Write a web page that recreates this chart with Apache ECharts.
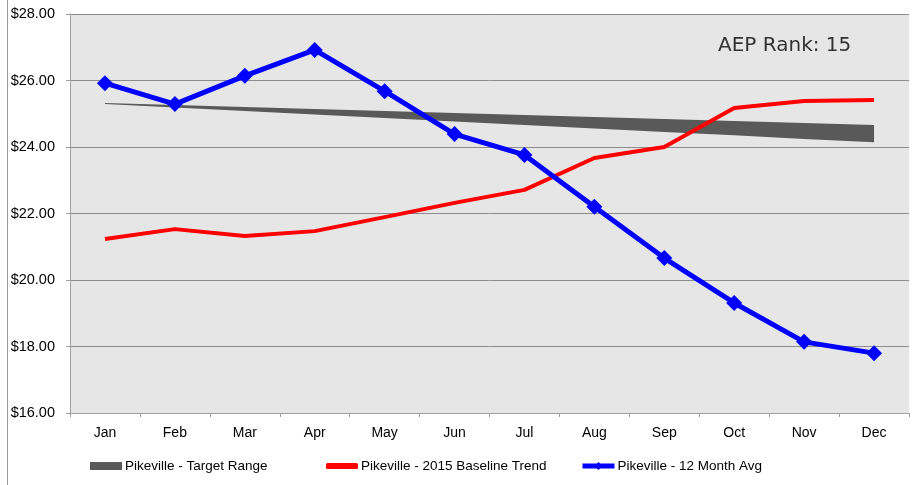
<!DOCTYPE html>
<html>
<head>
<meta charset="utf-8">
<script src="https://cdn.jsdelivr.net/npm/echarts@6/dist/echarts.min.js"></script>
<style>html,body{margin:0;padding:0;background:#fff}#c{width:915px;height:485px}</style>
</head>
<body>
<div id="c"></div>
<script>
const months = ['Jan','Feb','Mar','Apr','May','Jun','Jul','Aug','Sep','Oct','Nov','Dec'];
const targetLow  = [25.29, 25.19, 25.08, 24.98, 24.87, 24.77, 24.66, 24.56, 24.45, 24.35, 24.24, 24.14];
const targetHigh = [25.32, 25.26, 25.20, 25.14, 25.08, 25.02, 24.96, 24.90, 24.84, 24.78, 24.72, 24.66];
const baseline   = [21.23, 21.53, 21.32, 21.47, 21.89, 22.32, 22.71, 23.67, 24.00, 25.17, 25.38, 25.41];
const avg12      = [25.92, 25.29, 26.14, 26.92, 25.68, 24.39, 23.76, 22.20, 20.66, 19.31, 18.14, 17.80];
const yTicks = {min: 16, max: 28, interval: 2};
const rankText = 'AEP Rank: 15';

const names = ['Pikeville - Target Range', 'Pikeville - 2015 Baseline Trend', 'Pikeville - 12 Month Avg'];
const bandWidth = targetHigh.map((v, i) => +(v - targetLow[i]).toFixed(3));

const chart = echarts.init(document.getElementById('c'), null, {renderer: 'canvas'});
const font = 'Liberation Sans';
const legText = {color: '#000', fontFamily: font, fontSize: 13.5, padding: [0,0,0,-2]};
chart.setOption({
  animation: false,
  backgroundColor: '#ffffff',
  grid: {left: 70, right: 6, top: 14, bottom: 72, show: true, backgroundColor: '#e6e6e6', borderWidth: 0},
  xAxis: {
    type: 'category', data: months, boundaryGap: true,
    axisLine: {lineStyle: {color: '#a0a0a0', width: 1}},
    axisTick: {show: true, length: 4, lineStyle: {color: '#a0a0a0'}},
    axisLabel: {color: '#000', fontFamily: font, fontSize: 14, margin: 13},
    splitLine: {show: false}
  },
  yAxis: {
    type: 'value', min: yTicks.min, max: yTicks.max, interval: yTicks.interval,
    axisLine: {show: true, lineStyle: {color: '#a0a0a0', width: 1}},
    axisTick: {show: true, length: 4, lineStyle: {color: '#a0a0a0'}},
    axisLabel: {color: '#000', fontFamily: font, fontSize: 14.5, margin: 15,
      formatter: v => '$' + v.toFixed(2)},
    splitLine: {show: true, lineStyle: {color: '#8c8c8c', width: 1}}
  },
  legend: [
    {top: 459, left: 90, padding: 0, itemWidth: 32, itemHeight: 8, textStyle: legText,
      data: [{name: names[0], icon: 'rect', itemStyle: {color: '#595959'}}]},
    {top: 459, left: 326, padding: 0, itemWidth: 32, itemHeight: 6, textStyle: legText,
      data: [{name: names[1], icon: 'roundRect', itemStyle: {color: '#ff0000'}}]},
    {top: 459, left: 580, padding: 0, itemWidth: 32, itemHeight: 10, textStyle: legText,
      data: [{name: names[2], lineStyle: {width: 5, color: '#0000ff'}, itemStyle: {color: '#0000ff'}}]}
  ],
  graphic: [
    {type: 'line', shape: {x1: 7.5, y1: 0, x2: 7.5, y2: 485}, style: {stroke: '#9a9a9a', lineWidth: 1}, silent: true},
    {type: 'text', left: 718, top: 36, style: {text: rankText, fill: '#333', font: '20px "DejaVu Sans"'}}
  ],
  series: [
    {name: 'low', type: 'line', data: targetLow, stack: 'band', symbol: 'none',
      lineStyle: {width: 0, opacity: 0}, silent: true, z: 1},
    {name: names[0], type: 'line', data: bandWidth, stack: 'band', symbol: 'none',
      lineStyle: {width: 0, opacity: 0}, areaStyle: {color: '#595959', opacity: 1}, z: 2,
      itemStyle: {color: '#595959'}},
    {name: names[1], type: 'line', data: baseline, symbol: 'none',
      lineStyle: {color: '#ff0000', width: 4}, itemStyle: {color: '#ff0000'}, z: 3},
    {name: names[2], type: 'line', data: avg12, symbol: 'diamond', symbolSize: 16,
      lineStyle: {color: '#0000ff', width: 5}, itemStyle: {color: '#0000ff'}, z: 4}
  ]
});
</script>
</body>
</html>
